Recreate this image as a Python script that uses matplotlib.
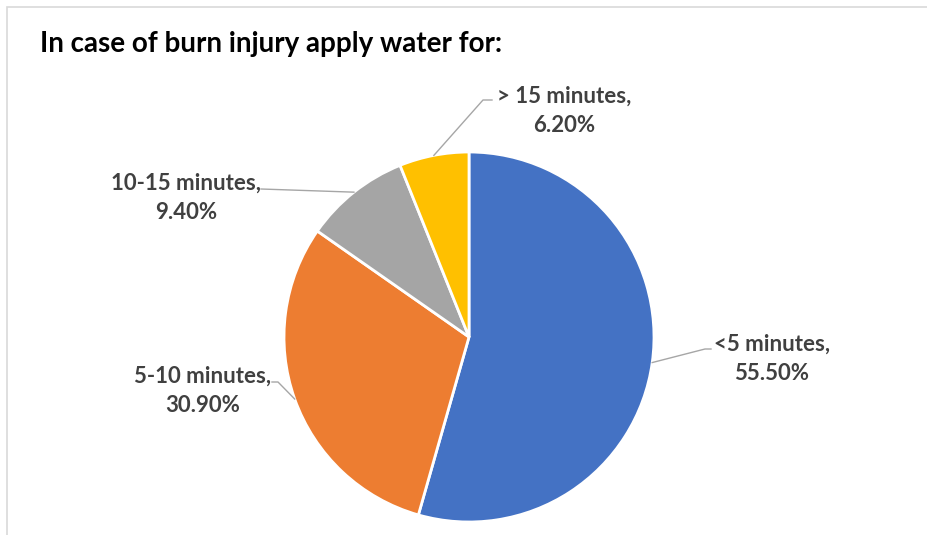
import numpy as np
import matplotlib
matplotlib.use("Agg")
import matplotlib.pyplot as plt
from matplotlib.patches import Rectangle

# burn first aid survey answers
categories = ["<5 minutes", "5-10 minutes", "10-15 minutes", "> 15 minutes"]
shares = [55.5, 30.9, 9.4, 6.2]
colors = ["#4472C4", "#ED7D31", "#A5A5A5", "#FFC000"]

W, H = 928, 535
plt.rcParams['font.family'] = ['Lato', 'DejaVu Sans']

fig = plt.figure(figsize=(W / 100, H / 100), dpi=100)
ax = fig.add_axes([0, 0, 1, 1])
ax.set_xlim(0, W)
ax.set_ylim(0, H)
ax.set_aspect('equal')
ax.axis('off')

# outer chart frame (runs off the right and bottom)
ax.add_patch(Rectangle((7, -20), W + 20, H - 7 + 20, fill=False,
                       edgecolor="#d9d9d9", linewidth=1.2))

cx, cy, r = 469, H - 337, 185
wedges, _ = ax.pie(shares, colors=colors, startangle=90, counterclock=False,
                   center=(cx, cy), radius=r,
                   wedgeprops=dict(edgecolor="white", linewidth=2))
ax.set_xlim(0, W)
ax.set_ylim(0, H)

# label placement: text centre, then leader path points (image px)
label_pos = [(772, 359), (203, 391), (186, 198), (564, 111)]
leader_pts = [[(705, 349), (711, 349)],
              [(278, 382), (272, 382)],
              [(261, 189)],
              [(483, 100), (492, 100)]]

for w, cat, val, (tx, ty), pts in zip(wedges, categories, shares, label_pos, leader_pts):
    mid = np.deg2rad((w.theta1 + w.theta2) / 2)
    sx, sy = cx + r * np.cos(mid), cy + r * np.sin(mid)
    xs = [sx] + [p[0] for p in pts]
    ys = [sy] + [H - p[1] for p in pts]
    ax.plot(xs, ys, color="#a6a6a6", linewidth=1)
    ax.text(tx, H - ty, f"{cat},\n{val:.2f}%", ha="center", va="center",
            fontsize=16, fontweight="bold", color="#404040", linespacing=1.45)

ax.text(40, H - 44, "In case of burn injury apply water for:", ha="left",
        va="center", fontsize=20, fontweight="bold", color="black")

fig.savefig("out.png", dpi=100)
